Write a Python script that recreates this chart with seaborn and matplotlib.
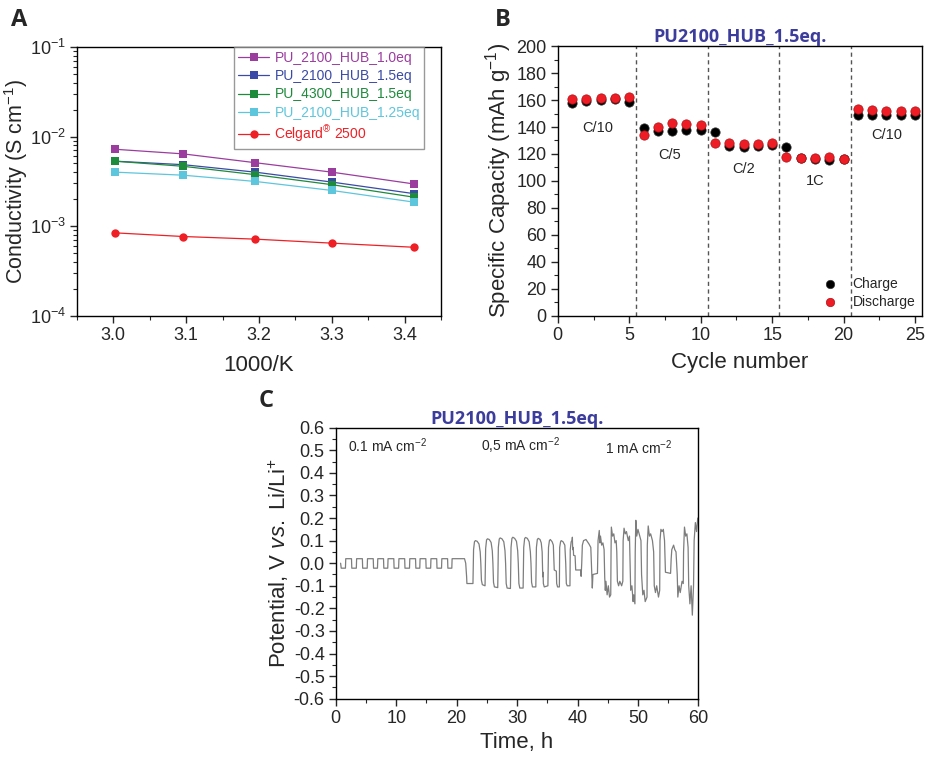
import numpy as np
import pandas as pd
import matplotlib
matplotlib.use('Agg')
import matplotlib.pyplot as plt
import seaborn as sns
from matplotlib.ticker import MultipleLocator

# ---- panel A: conductivity vs 1000/K ----
inv_temp = [3.003, 3.096, 3.195, 3.300, 3.413]
pu2100_10 = [7.2e-3, 6.4e-3, 5.1e-3, 4.0e-3, 2.95e-3]
pu2100_15 = [5.3e-3, 4.85e-3, 4.0e-3, 3.1e-3, 2.3e-3]
pu4300_15 = [5.3e-3, 4.65e-3, 3.75e-3, 2.9e-3, 2.1e-3]
pu2100_125 = [4.0e-3, 3.7e-3, 3.15e-3, 2.5e-3, 1.85e-3]
celgard = [8.4e-4, 7.65e-4, 7.15e-4, 6.45e-4, 5.8e-4]
series_a = ['PU_2100_HUB_1.0eq', 'PU_2100_HUB_1.5eq', 'PU_4300_HUB_1.5eq',
            'PU_2100_HUB_1.25eq', 'Celgard$^{\\circledR}$ 2500']
colors_a = ['#9b3d9f', '#3a4aa6', '#1e8a3c', '#5ec6dc', '#ee2026']

# ---- panel B: rate capability ----
cycles = list(range(1, 26))
charge = [158.0, 159.3, 160.0, 160.5, 158.8,
          139.0, 136.8, 137.0, 137.8, 137.5,
          136.3, 125.9, 125.4, 126.2, 126.4,
          125.4, 117.0, 116.0, 115.6, 116.0,
          149.1, 149.1, 149.1, 148.6, 148.6]
discharge = [160.7, 161.0, 161.2, 161.7, 162.0,
             133.8, 140.2, 142.7, 142.5, 141.7,
             128.4, 128.1, 127.6, 127.7, 128.1,
             117.5, 117.0, 116.8, 117.5, 116.5,
             153.1, 152.6, 152.1, 151.9, 151.9]
rate_bounds = [5.5, 10.5, 15.5, 20.5]
rate_names = ['C/10', 'C/5', 'C/2', '1C', 'C/10']
rate_pos = [(2.8, 139), (7.8, 119), (13.0, 109), (18.0, 100), (23.0, 134)]

# ---- panel C: Li stripping/plating ----
t_low = [0.8, 0.9, 1.6, 1.65, 2.6, 2.65, 3.4, 3.45, 4.4, 4.45, 5.2, 5.25, 6.2, 6.25,
         6.9, 6.95, 7.9, 7.95, 8.6, 8.65, 9.6, 9.65, 10.4, 10.45, 11.4, 11.45,
         12.2, 12.25, 13.2, 13.25, 13.9, 13.95, 14.9, 14.95, 15.7, 15.75, 16.7, 16.75,
         17.5, 17.55, 18.5, 18.55, 19.2, 19.25, 21.3, 21.5, 21.65]
v_low = [0.0, -0.022,
         -0.022, 0.02, 0.02, -0.022, -0.022, 0.02, 0.02, -0.022,
         -0.022, 0.02, 0.02, -0.022, -0.022, 0.02, 0.02, -0.022,
         -0.022, 0.02, 0.02, -0.022, -0.022, 0.02, 0.02, -0.022,
         -0.022, 0.02, 0.02, -0.022, -0.022, 0.02, 0.02, -0.022,
         -0.022, 0.02, 0.02, -0.022, -0.022, 0.02, 0.02, -0.022,
         -0.022, 0.02, 0.02, 0.0, -0.06]
t_mid = [21.7, 22.7, 22.8, 22.95, 23.1, 23.4, 23.7, 23.9, 24.0, 24.1, 24.25,
         24.7, 24.8, 24.95, 25.1, 25.4, 25.7, 25.9, 26.0, 26.1, 26.25,
         26.8, 26.9, 27.05, 27.2, 27.5, 27.8, 28.0, 28.1, 28.2, 28.35,
         28.9, 29.0, 29.15, 29.3, 29.6, 29.9, 30.1, 30.2, 30.3, 30.45,
         31.0, 31.1, 31.25, 31.4, 31.7, 32.0, 32.2, 32.3, 32.4, 32.55,
         33.1, 33.2, 33.35, 33.5, 33.8, 34.0, 34.15, 34.2, 34.25, 34.3, 34.35, 34.5,
         35.1, 35.2, 35.35, 35.5, 35.8, 36.0, 36.1, 36.15, 36.5, 36.55, 36.7,
         37.0, 37.05, 37.2, 37.3, 37.6, 37.9, 38.05, 38.15, 38.3, 38.75,
         38.8, 38.95, 39.1, 39.15, 39.2, 39.3, 39.35, 39.6]
v_mid = [-0.09, -0.09, 0.06, 0.095, 0.10, 0.097, 0.085, 0.05, 0.0, -0.075, -0.095,
         -0.10, 0.065, 0.103, 0.108, 0.105, 0.092, 0.055, 0.0, -0.085, -0.105,
         -0.108, 0.07, 0.107, 0.112, 0.108, 0.095, 0.055, 0.0, -0.09, -0.11,
         -0.112, 0.07, 0.11, 0.115, 0.11, 0.097, 0.055, 0.0, -0.09, -0.11,
         -0.11, 0.07, 0.109, 0.114, 0.11, 0.095, 0.05, 0.0, -0.085, -0.105,
         -0.105, 0.07, 0.105, 0.11, 0.105, 0.09, 0.05, 0.0, -0.06, -0.04, -0.09, -0.105,
         -0.10, 0.07, 0.10, 0.105, 0.095, 0.08, 0.0, -0.03, -0.035, -0.09, -0.105,
         -0.105, 0.07, 0.095, 0.10, 0.095, 0.08, 0.0, -0.09, -0.10, -0.10,
         0.06, 0.095, 0.10, 0.115, 0.06, 0.07, 0.035, 0.033]
t_high = [39.7, 40.55, 40.6, 40.7, 40.8, 41.0, 41.4, 41.9, 42.2, 42.3, 42.45, 42.55, 43.3,
          43.4, 43.6, 43.7, 43.8, 44.0, 44.2, 44.4, 44.5, 44.6, 44.7, 44.9, 45.1, 45.3, 45.5,
          45.55, 45.6, 45.8, 46.0, 46.2, 46.4, 46.5, 46.6, 46.8, 47.0, 47.3, 47.5,
          47.55, 47.7, 47.9, 48.1, 48.4, 48.6, 48.7, 48.8, 49.0, 49.2, 49.3, 49.5,
          49.55, 49.65, 49.8, 50.0, 50.3, 50.5, 50.6, 50.8, 51.0, 51.2, 51.5,
          51.55, 51.7, 51.9, 52.1, 52.4, 52.6, 52.7, 52.9, 53.1, 53.4, 53.6,
          53.65, 53.8, 54.0, 54.2, 54.4, 54.5, 54.55, 55.4,
          55.5, 55.6, 55.9, 56.1, 56.3, 56.5, 56.6, 56.8, 57.0, 57.3, 57.5,
          57.55, 57.7, 57.9, 58.1, 58.3, 58.4, 58.6, 58.8, 59.0, 59.2,
          59.3, 59.5, 59.7, 59.9]
v_high = [-0.03, -0.03, -0.058, 0.0, 0.08, 0.10, 0.105, 0.085, 0.07, 0.0, -0.11, -0.05, -0.045,
          0.10, 0.145, 0.09, 0.12, 0.08, 0.09, 0.06, -0.06, -0.12, -0.08, -0.14, -0.10, -0.15, -0.14,
          0.05, 0.16, 0.12, 0.13, 0.09, 0.10, 0.05, -0.08, -0.10, -0.08, -0.10, -0.08,
          0.10, 0.155, 0.13, 0.14, 0.10, 0.12, 0.0, -0.12, -0.10, -0.17, -0.14, -0.18,
          0.05, 0.19, 0.12, 0.15, 0.12, 0.10, -0.05, -0.14, -0.12, -0.17, -0.15,
          0.08, 0.165, 0.12, 0.13, 0.10, 0.05, -0.10, -0.13, -0.10, -0.15, -0.12,
          0.10, 0.15, 0.14, 0.15, 0.10, 0.0, -0.04, -0.045,
          0.02, 0.06, 0.08, 0.06, 0.05, -0.05, -0.15, -0.10, -0.13, -0.08, -0.09,
          0.05, 0.16, 0.12, 0.13, 0.07, -0.10, -0.18, -0.10, -0.23, -0.10,
          0.10, 0.18, 0.14, 0.20]
current_labels = ['0.1 mA cm$^{-2}$', '0,5 mA cm$^{-2}$', '1 mA cm$^{-2}$']
current_pos = [(2.0, 0.52), (24.0, 0.52), (44.5, 0.51)]

title_txt = 'PU2100_HUB_1.5eq.'
title_col = '#3c3c9c'

sns.set_theme(style='ticks')
plt.rcParams['font.family'] = ['Liberation Sans', 'DejaVu Sans']
plt.rcParams['mathtext.fontset'] = 'custom'
plt.rcParams['mathtext.rm'] = 'Liberation Sans'
plt.rcParams['mathtext.it'] = 'Liberation Sans:italic'
plt.rcParams['axes.linewidth'] = 1.0
plt.rcParams['xtick.direction'] = 'out'
plt.rcParams['ytick.direction'] = 'out'

fig = plt.figure(figsize=(9.25, 7.57), dpi=100)
axA = fig.add_axes([0.083, 0.583, 0.394, 0.355])
axB = fig.add_axes([0.603, 0.583, 0.394, 0.356])
axC = fig.add_axes([0.363, 0.077, 0.392, 0.358])

# --- A ---
df_a = pd.DataFrame({
    'x': inv_temp * 5,
    'y': pu2100_10 + pu2100_15 + pu4300_15 + pu2100_125 + celgard,
    'series': np.repeat(series_a, len(inv_temp)),
})
sns.lineplot(data=df_a, x='x', y='y', hue='series', style='series',
             hue_order=series_a, style_order=series_a,
             palette=dict(zip(series_a, colors_a)),
             markers=dict(zip(series_a, ['s', 's', 's', 's', 'o'])),
             dashes=False, markersize=6, markeredgewidth=0, linewidth=0.9,
             ax=axA)
axA.set_yscale('log')
axA.set_ylim(1e-4, 1e-1)
axA.set_xlim(2.95, 3.45)
axA.xaxis.set_major_locator(MultipleLocator(0.1))
axA.xaxis.set_minor_locator(MultipleLocator(0.05))
axA.xaxis.set_major_formatter(matplotlib.ticker.FormatStrFormatter('%.1f'))
axA.set_xlabel('1000/K', fontsize=16, labelpad=8)
axA.set_ylabel('Conductivity (S cm$^{-1}$)', fontsize=15.5, labelpad=0)
leg = axA.legend(loc='upper right', bbox_to_anchor=(0.953, 1.0), fontsize=10,
                 frameon=True, fancybox=False, edgecolor='#808080',
                 handlelength=2.2, handletextpad=0.4, borderpad=0.3,
                 labelspacing=0.3, borderaxespad=0)
leg.get_frame().set_linewidth(1.0)
for txt, c in zip(leg.get_texts(), colors_a):
    txt.set_color(c)

# --- B ---
sns.scatterplot(x=cycles, y=charge, color='black', s=45, edgecolor='#333333',
                linewidth=0.5, label='Charge', ax=axB, zorder=3)
sns.scatterplot(x=cycles, y=discharge, color='#ee1c24', s=45, edgecolor='#b01015',
                linewidth=0.5, label='Discharge', ax=axB, zorder=3)
for xb in rate_bounds:
    axB.axvline(xb, color='#555555', linestyle=(0, (3, 2.5)), linewidth=1.0)
for name, (xr, yr) in zip(rate_names, rate_pos):
    axB.text(xr, yr, name, fontsize=10.5, ha='center', va='center')
axB.set_xlim(0, 25.5)
axB.set_ylim(0, 200)
axB.xaxis.set_major_locator(MultipleLocator(5))
axB.xaxis.set_minor_locator(MultipleLocator(2.5))
axB.yaxis.set_major_locator(MultipleLocator(20))
axB.yaxis.set_minor_locator(MultipleLocator(10))
axB.set_xlabel('Cycle number', fontsize=16, labelpad=6)
axB.set_ylabel('Specific Capacity (mAh g$^{-1}$)', fontsize=16, labelpad=2)
axB.set_title(title_txt, fontsize=13, fontweight='bold', color=title_col,
              family=['Open Sans', 'DejaVu Sans'], pad=2)
axB.legend(loc='lower right', frameon=False, fontsize=10, handletextpad=0.6,
           borderaxespad=0.1, labelspacing=0.3, markerscale=0.9)

# --- C ---
t_all = t_low + t_mid + t_high
v_all = v_low + v_mid + v_high
sns.lineplot(x=t_all, y=v_all, sort=False, color='#7d7d7d', linewidth=0.9,
             estimator=None, ax=axC)
for lab, (xc, yc) in zip(current_labels, current_pos):
    axC.text(xc, yc, lab, fontsize=10, ha='left', va='center')
axC.set_xlim(0, 60)
axC.set_ylim(-0.6, 0.6)
axC.xaxis.set_major_locator(MultipleLocator(10))
axC.xaxis.set_minor_locator(MultipleLocator(5))
axC.yaxis.set_major_locator(MultipleLocator(0.1))
axC.yaxis.set_minor_locator(MultipleLocator(0.05))
axC.yaxis.set_major_formatter(matplotlib.ticker.FormatStrFormatter('%.1f'))
axC.set_xlabel('Time, h', fontsize=16, labelpad=4)
axC.set_ylabel('Potential, V $\\mathit{vs.}$ Li/Li$^{+}$', fontsize=16, labelpad=2)
axC.set_title(title_txt, fontsize=13, fontweight='bold', color=title_col,
              family=['Open Sans', 'DejaVu Sans'], pad=2)

for ax in (axA, axB, axC):
    for sp in ax.spines.values():
        sp.set_visible(True)
        sp.set_color('black')
        sp.set_linewidth(1.0)
    ax.tick_params(which='major', length=5, width=1.0, labelsize=13, pad=3,
                   top=False, right=False, left=True, bottom=True)
    ax.tick_params(which='minor', length=3, width=0.8,
                   top=False, right=False, left=True, bottom=True)

for lab, (xl, yl) in zip(['A', 'B', 'C'], [(0.012, 0.965), (0.535, 0.965), (0.28, 0.463)]):
    fig.text(xl, yl, lab, fontsize=17, fontweight='bold',
             family=['Open Sans', 'DejaVu Sans'])

fig.savefig('out.png', dpi=100)
